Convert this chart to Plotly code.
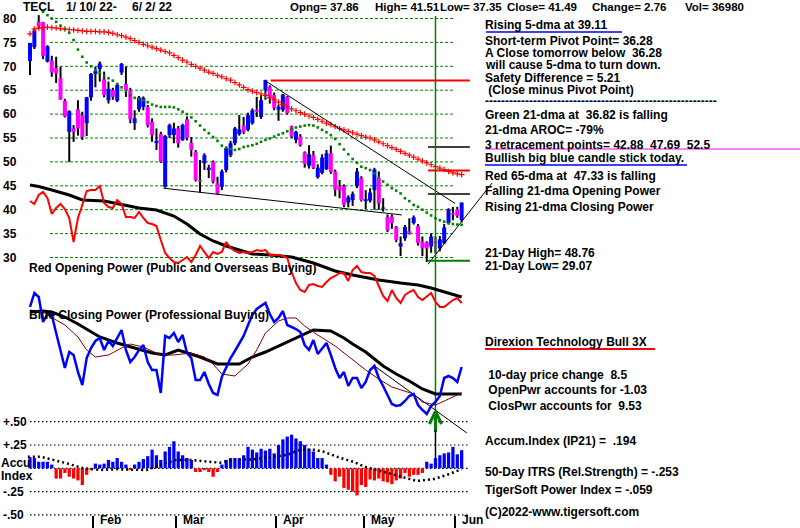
import plotly.graph_objects as go

W, H = 800, 528
FONT = "Liberation Sans, Arial, sans-serif"

# ---------------- data ----------------
days = list(range(100))
month_ticks = [14.5, 33.5, 56.5, 76.5, 97.5]
month_labels = ['Feb', 'Mar', 'Apr', 'May', 'Jun']
price_ticks = [30, 35, 40, 45, 50, 55, 60, 65, 70, 75, 80]
accum_ticks = [0.5, 0.25, -0.25, -0.5]
accum_tick_text = ['+.50', '+.25', '-.25', '-.50']
accum_grid = [0.5, 0.25, 0.0, -0.25, -0.5]

open_ = [71.1,74.0,79.3,79.2,71.0,71.2,69.6,67.5,62.8,56.3,
         57.0,61.0,59.8,58.1,63.5,68.4,69.4,67.3,62.9,65.0,
         62.8,68.7,66.3,65.0,58.1,61.0,61.5,61.5,58.4,53.9,
         55.8,44.8,55.6,55.6,57.0,54.6,58.9,54.0,52.1,46.2,
         49.7,48.3,50.0,45.5,44.8,48.3,51.4,53.9,55.8,57.6,
         56.7,58.1,60.9,59.4,65.0,65.7,64.0,60.9,60.9,63.6,
         57.4,54.6,55.3,52.0,49.2,51.4,46.8,47.7,48.5,51.8,
         48.0,44.8,44.9,41.5,42.0,44.9,46.6,41.8,41.9,44.1,
         46.6,40.2,38.4,38.6,36.4,32.3,34.0,35.5,37.2,36.6,
         33.3,33.2,32.3,33.3,31.9,33.0,37.2,39.3,40.1,37.86]
high = [74.9,78.0,80.7,79.3,74.4,72.2,72.0,69.9,63.2,60.8,
        57.7,62.9,60.5,63.6,68.6,69.9,71.0,68.9,66.8,65.5,
        66.5,70.7,69.9,65.5,60.8,63.8,63.7,61.9,59.1,57.0,
        56.3,55.6,58.0,58.2,57.5,58.0,59.5,55.2,52.5,50.4,
        51.8,49.4,50.3,46.9,48.4,53.0,54.4,57.3,59.8,59.4,
        60.3,61.2,63.6,64.0,67.2,66.0,64.5,62.0,64.2,63.8,
        57.6,56.5,55.8,52.2,53.5,52.3,49.5,51.6,52.5,53.4,
        48.4,46.2,45.3,43.0,43.8,48.7,47.0,44.1,44.5,48.76,
        48.0,42.4,39.0,39.0,36.6,34.4,36.8,38.2,38.8,37.0,
        34.4,33.4,35.0,34.4,34.5,37.0,40.3,40.6,40.6,41.51]
low = [68.2,73.6,77.8,71.5,70.8,67.8,66.5,63.0,59.3,50.0,
       54.2,55.5,54.6,55.4,62.8,65.6,66.8,63.5,62.2,63.0,
       62.5,68.2,63.6,58.1,56.7,60.5,60.8,57.2,54.2,52.5,
       49.8,44.6,55.0,53.9,53.0,54.4,54.5,51.1,45.9,43.6,
       48.3,46.6,45.5,43.2,44.1,47.8,51.0,53.5,55.5,55.8,
       56.4,57.8,59.4,59.0,63.0,62.2,60.8,58.6,60.5,59.9,
       55.0,53.9,53.2,48.8,48.6,48.5,46.5,47.4,48.3,47.5,
       42.8,42.4,40.5,40.5,40.8,44.5,41.7,40.1,41.5,40.0,
       40.0,39.6,35.3,36.0,33.2,30.3,33.5,34.8,36.9,32.5,
       30.3,29.07,31.0,30.9,31.3,32.8,36.9,37.8,38.3,37.35]
close = [74.9,77.5,78.4,72.2,74.2,68.7,68.5,63.1,59.5,60.6,
         56.3,57.0,55.2,63.5,68.4,69.0,70.6,64.0,65.3,63.6,
         66.1,70.5,65.0,58.9,59.1,63.5,63.4,57.7,55.6,54.4,
         50.0,55.4,57.7,57.0,53.9,57.7,55.0,52.5,46.2,45.9,
         51.4,48.8,45.9,43.4,48.0,52.9,53.9,57.0,56.8,56.3,
         59.8,60.8,60.5,62.9,67.1,63.6,61.3,61.5,64.1,60.2,
         55.3,56.3,53.5,49.6,51.6,48.8,48.8,50.9,51.8,47.9,
         44.2,44.0,41.0,42.6,43.3,48.0,42.0,42.2,43.6,48.4,
         41.3,40.4,35.7,37.2,33.7,33.0,36.4,35.0,38.4,33.0,
         31.9,31.9,34.4,33.0,33.8,36.28,40.0,39.0,38.7,41.49]

ma65 = [76.8,77.8,78.0,78.1,78.2,78.1,78.0,77.9,77.8,77.7,
        77.6,77.5,77.4,77.3,77.3,77.3,77.2,77.2,77.1,76.9,
        76.6,76.4,76.1,75.8,75.4,75.0,74.6,74.3,74.0,73.7,
        73.4,73.1,72.8,72.3,71.8,71.3,70.9,70.4,70.0,69.6,
        69.2,68.8,68.5,68.1,67.8,67.4,67.1,66.6,66.1,65.6,
        65.1,64.8,64.5,64.2,63.9,63.4,63.0,62.5,62.0,61.5,
        61.1,60.7,60.3,60.0,59.6,59.3,58.9,58.5,58.1,57.8,
        57.4,57.0,56.7,56.4,56.1,55.8,55.5,55.2,55.0,54.6,
        54.2,53.8,53.4,53.0,52.6,52.2,51.8,51.4,51.0,50.6,
        50.2,49.8,49.4,49.0,48.7,48.4,48.0,47.7,47.5,47.33]

ma21_days = list(range(3, 100))
ma21 = [81.4,80.7,80.0,79.3,78.5,77.8,77.0,75.5,73.5,72.0,
        70.8,70.0,69.2,68.6,68.0,67.5,67.0,66.3,65.6,64.8,
        63.9,63.4,63.1,62.9,62.5,62.0,61.7,61.5,61.5,61.5,
        61.4,61.0,60.5,60.0,59.3,58.5,57.6,56.7,56.0,55.2,
        54.4,53.4,53.0,52.7,52.5,52.7,53.1,53.3,53.5,53.8,
        54.2,54.6,54.9,55.3,55.7,56.0,56.4,56.8,57.2,57.4,
        57.6,57.7,57.6,57.2,56.7,56.2,55.6,54.8,53.7,52.6,
        51.6,50.6,49.8,49.0,48.7,48.3,47.6,46.8,45.9,45.2,
        44.5,44.0,43.4,42.4,41.8,41.0,40.6,40.0,39.4,38.8,
        38.2,37.8,37.5,37.2,37.0,36.9,36.82]

open_power = [109,106,115,118,112,96,102,106,101,92,
              68,92,105,119,120,120,124,107,103,102,
              110,106,93,93,92,98,92,87,86,84,
              70,57,52,48,47,50,53,48,55,64,
              58,52,58,56,58,68,62,59,57,58,
              57,58,60,59,60,55,55,55,54,52,
              38,27,20,18,25,26,24,23,28,32,
              34,37,37,29,40,44,38,37,37,34,
              24,14,9,20,12,7,15,18,20,13,
              10,14,17,8,3,3,7,10,12,7]
op_ma_days = [0,2,5,9,12,17,21,25,29,33,36,39,42,45,48,51,55,60,65,70,74,80,85,89,92,95,99]
op_ma = [125,123.5,120,115,110,109,105.5,102,100,94,86,76,69,64,60,56,55,53,47,39,35,30,27,25,22,18,13]

close_power = [113,127,123,98,106,105,87,68,52,68,
               65,48,35,62,72,79,82,70,79,74,
               82,90,70,58,63,70,75,58,50,50,
               27,84,82,87,78,85,67,62,40,40,
               48,36,27,25,43,52,62,69,77,84,
               95,105,111,114,117,106,98,102,109,95,
               93,91,88,75,70,80,66,72,77,65,
               52,42,48,34,42,42,32,38,50,54,
               42,34,25,16,14,15,19,24,26,15,
               10,6,14,18,24,42,44,42,38,53]
cp_ma_days = [0,3,5,8,11,16,20,24,28,31,34,39,43,48,51,54,57,60,63,65,69,72,74,77,81,84,87,90,93,99]
cp_ma = [108,109,108,103,96,83,77,72,67,65,70,63,56,56,63,68,74,80,86,90,89,82,76,68,54,46,39,31,26,26]
cp_ma2_days = [0,3,6,8,11,13,15,18,21,23,26,30,33,37,40,42,44,47,50,52,54,57,59,61,63,66,70,74,77,80,83,88,90,93,96,99]
cp_ma2 = [110,108,100,95,83,70,63,65,72,76,73,65,65,67,63,56,46,44,56,70,87,99,102,102,94,85,74,60,50,41,33,26,18,15,21,27]

accum = [0.12,0.11,0.07,0.07,0.07,0.04,-0.11,-0.11,-0.05,-0.09,
         -0.11,-0.13,-0.18,-0.07,-0.02,0.05,0.04,0.05,0.09,0.07,
         0.11,0.07,0.04,-0.02,0.04,0.07,0.10,0.13,0.20,0.14,
         0.09,0.18,0.23,0.29,0.18,0.14,0.11,0.09,-0.04,-0.04,
         -0.02,-0.04,-0.09,-0.04,0.04,0.09,0.11,0.11,0.11,0.14,
         0.23,0.20,0.17,0.21,0.19,0.21,0.16,0.25,0.31,0.34,
         0.36,0.32,0.29,0.25,0.21,0.18,0.11,0.11,0.04,-0.07,
         -0.14,-0.09,-0.21,-0.23,-0.25,-0.29,-0.18,-0.20,-0.12,-0.13,
         -0.11,-0.14,-0.15,-0.17,-0.13,-0.11,-0.05,-0.09,-0.07,-0.07,
         -0.05,0.07,0.05,0.11,0.14,0.16,0.17,0.23,0.15,0.194]
itrs_days = [-0.5,2.3,5.3,8.4,12.2,16,19.9,23.6,26.8,29.8,33.6,36.7,40.5,43.6,46.6,51.1,55.7,58.9,61.9,64.9,67.2,70.3,74.1,77.2,81,84.9,88.7,92.4,95.6,99]
itrs = [0.125,0.125,0.09,0.054,0.0,-0.018,-0.011,-0.018,-0.018,0.036,0.09,0.09,0.07,0.06,0.09,0.096,0.125,0.143,0.196,0.2,0.18,0.125,0.07,0.01,-0.036,-0.09,-0.136,-0.118,-0.071,-0.01]

# trend lines (day, price) / (day, power)
trend_down = ([53.9, 97.5], [67.0, 41.3])
trend_support = ([30.6, 85.3], [44.5, 38.9])
trend_up = ([91.3, 106.0], [28.6, 45.6])
cp_trend = ([78.7, 100.2], [55, -13])
signal_day = 93
level_lines = [(55.2, 67.05, 'red'), (91.3, 53.1, 'black'), (91.3, 48.2, 'red'),
               (91.3, 43.3, 'black'), (91.3, 29.3, '#008000')]
level_end = 100.9

# header pieces (text, left x in px)
header_items = [('TECL', 22, 12), ('1/ 10/ 22-', 65, 12), ('6/ 2/ 22', 131, 12),
                ('Opng= 37.86', 289, 11.5), ('High= 41.51', 374, 11.5), ('Low= 37.35', 439, 11.5),
                ('Close= 41.49', 506, 11.5), ('Change= 2.76', 591, 11.5), ('Vol= 36980', 684, 11.5)]

# ---------------- pixel geometry -> axis ranges ----------------
PX0, DX = 30.0, 4.36
x_range = [-PX0 / DX, (W - PX0) / DX]
P_Y80, P_SCALE = 18.5, 4.78
price_range = [80 - (H - P_Y80) / P_SCALE, 80 + P_Y80 / P_SCALE]
op_range = [310 - H, 310]
cp_range = [420 - H, 420]
A_Y0, A_SCALE = 468.3, 93.3
acc_range = [(A_Y0 - H) / A_SCALE, A_Y0 / A_SCALE]

BLUE, MAG, RED, GREEN = '#0000FF', '#FF00FF', '#FF0000', '#008000'

fig = go.Figure()

# wicks
wx, wy = [], []
for i in days:
    wx += [i, i, None]
    wy += [low[i], high[i], None]
fig.add_trace(go.Scatter(x=wx, y=wy, mode='lines', line=dict(color='black', width=2),
                         hoverinfo='skip', yaxis='y'))
# bodies
for up, col in ((True, BLUE), (False, MAG)):
    bx, by = [], []
    for i in days:
        if (close[i] >= open_[i]) == up:
            lo_, hi_ = min(open_[i], close[i]), max(open_[i], close[i])
            if hi_ - lo_ < 0.25:
                hi_ = lo_ + 0.25
            bx += [i, i, None]
            by += [lo_, hi_, None]
    fig.add_trace(go.Scatter(x=bx, y=by, mode='lines', line=dict(color=col, width=4),
                             hoverinfo='skip', yaxis='y'))

# moving averages on price
fig.add_trace(go.Scatter(x=days, y=ma65, mode='markers',
                         marker=dict(symbol='cross-thin', size=4, color=RED,
                                     line=dict(width=1.2, color=RED)),
                         yaxis='y'))
fig.add_trace(go.Scatter(x=ma21_days, y=ma21, mode='markers',
                         marker=dict(symbol='square', size=2.6, color=GREEN, line=dict(width=0)),
                         yaxis='y'))
# trend lines
for tl in (trend_down, trend_support, trend_up):
    fig.add_trace(go.Scatter(x=tl[0], y=tl[1], mode='lines', line=dict(color='black', width=1),
                             yaxis='y'))
# level lines
for x0, lvl, col in level_lines:
    fig.add_trace(go.Scatter(x=[x0, level_end], y=[lvl, lvl], mode='lines',
                             line=dict(color=col, width=2 if col != 'black' else 1.5), yaxis='y'))
# signal vertical line
fig.add_trace(go.Scatter(x=[signal_day, signal_day], y=[80.5, -1.9], mode='lines',
                         line=dict(color=GREEN, width=1.5), yaxis='y'))

# opening power
fig.add_trace(go.Scatter(x=op_ma_days, y=op_ma, mode='lines', line=dict(color='black', width=3),
                         yaxis='y2'))
fig.add_trace(go.Scatter(x=days, y=open_power, mode='lines', line=dict(color=RED, width=2),
                         yaxis='y2'))

# closing power
fig.add_trace(go.Scatter(x=cp_ma_days, y=cp_ma, mode='lines', line=dict(color='black', width=3),
                         yaxis='y3'))
fig.add_trace(go.Scatter(x=cp_ma2_days, y=cp_ma2, mode='lines', line=dict(color='#800000', width=1),
                         yaxis='y3'))
fig.add_trace(go.Scatter(x=cp_trend[0], y=cp_trend[1], mode='lines', line=dict(color='black', width=1),
                         yaxis='y3'))
fig.add_trace(go.Scatter(x=days, y=close_power, mode='lines', line=dict(color=BLUE, width=2.5),
                         yaxis='y3'))
# green arrow
fig.add_trace(go.Scatter(x=[signal_day - 1.4, signal_day, signal_day + 1.4, None, signal_day, signal_day],
                         y=[-4, 8.5, -4, None, 8.5, -12], mode='lines',
                         line=dict(color=GREEN, width=3), yaxis='y3'))

# accumulation index
fig.add_trace(go.Bar(x=days, y=accum, width=0.75,
                     marker=dict(color=[BLUE if v >= 0 else RED for v in accum], line=dict(width=0)),
                     yaxis='y4'))
fig.add_trace(go.Scatter(x=itrs_days, y=itrs, mode='lines',
                         line=dict(color='black', width=2.5, dash='2px,3px'), yaxis='y4'))
fig.add_trace(go.Scatter(x=[signal_day, signal_day], y=[0.41, 0.11], mode='lines',
                         line=dict(color='black', width=1.5), yaxis='y4'))

# ---------------- grids (shapes) ----------------
shapes = []
for p in price_ticks:
    shapes.append(dict(type='line', xref='x', yref='y', x0=4.6, x1=97.0, y0=p, y1=p,
                       line=dict(color=GREEN, width=1, dash='3px,2px'), layer='below'))
for a in accum_grid:
    shapes.append(dict(type='line', xref='x', yref='y4', x0=0, x1=100.9, y0=a, y1=a,
                       line=dict(color='black', width=1.2, dash='1.5px,2.5px'), layer='below'))


def pline(x0, y0, x1, y1, col, w):
    shapes.append(dict(type='line', xref='paper', yref='paper', x0=x0 / W, x1=x1 / W,
                       y0=1 - y0 / H, y1=1 - y1 / H, line=dict(color=col, width=w)))


pline(486, 32, 622, 32, BLUE, 1.5)
pline(485, 149, 800, 149, MAG, 1)
pline(485, 165, 687, 165, BLUE, 1.5)
pline(485, 349, 655, 349, RED, 2)

# ---------------- text ----------------
anns = []


def ann(text, x, y, size=12, color='black'):
    text = text.replace('  ', '\u00a0\u00a0')
    if text.startswith(' '):
        text = '\u00a0' + text[1:]
    anns.append(dict(text='<b>' + text + '</b>', x=x / W, y=1 - y / H, xref='paper', yref='paper',
                     xanchor='left', yanchor='middle', showarrow=False, borderpad=0,
                     font=dict(family=FONT, size=size, color=color)))


for t, x, s in header_items:
    ann(t, x, 7, size=s)

panel = [
    ('Rising 5-dma at 39.11', 25),
    ('Short-term Pivot Point= 36.28', 41),
    ('A Close tomorrow below  36.28', 53),
    ('will cause 5-dma to turn down.', 65),
    ('Safety Difference = 5.21', 78),
    (' (Close minus Pivot Point)', 90),
    ('-' * 58, 101),
    ('Green 21-dma at  36.82 is falling', 115),
    ('21-dma AROC= -79%', 130),
    ('3 retracement points= 42.88  47.69  52.5', 145),
    ('Bullish big blue candle stick today.', 158),
    ('Red 65-dma at  47.33 is falling', 176),
    ('Falling 21-dma Opening Power', 191),
    ('Rising 21-dma Closing Power', 207),
    ('21-Day High= 48.76', 253),
    ('21-Day Low= 29.07', 266),
    ('Direxion Technology Bull 3X', 342),
    (' 10-day price change  8.5', 374.5),
    (' OpenPwr accounts for -1.03', 390),
    (' ClosPwr accounts for  9.53', 406),
    ('Accum.Index (IP21) =  .194', 440.5),
    ('50-Day ITRS (Rel.Strength) = -.253', 471.5),
    ('TigerSoft Power Index = -.059', 490),
    ('(C)2022-www.tigersoft.com', 511.5),
]
for t, y in panel:
    ann(t, 484, y)

ann('Red Opening Power (Public and Overseas Buying)', 28, 268)
ann('Blue Closing Power (Professional Buying)', 28, 315)
ann('Accu', 0, 463)
ann('Index', 0, 476)

for t, lbl in zip(month_ticks, month_labels):
    anns.append(dict(text='<b>' + lbl + '</b>', x=t, y=1 - 520 / H, xref='x', yref='paper',
                     xanchor='left', yanchor='middle', xshift=6, showarrow=False, borderpad=0,
                     font=dict(family=FONT, size=12, color='black')))

tickfont = dict(family=FONT, size=12, color='black', weight='bold')
fig.update_layout(
    width=W, height=H, margin=dict(l=0, r=0, t=0, b=0, pad=0, autoexpand=False),
    paper_bgcolor='white', plot_bgcolor='white', showlegend=False, barmode='overlay',
    xaxis=dict(range=x_range, showgrid=False, zeroline=False, showline=False,
               tickvals=month_ticks, ticktext=['' for _ in month_ticks], ticks='inside',
               ticklen=12, tickwidth=2, tickcolor='black'),
    yaxis=dict(range=price_range, showgrid=False, zeroline=False, showline=False,
               tickvals=price_ticks, ticktext=[str(p) for p in price_ticks],
               ticklabelposition='inside', ticks='', tickfont=tickfont),
    yaxis2=dict(range=op_range, overlaying='y', visible=False),
    yaxis3=dict(range=cp_range, overlaying='y', visible=False),
    yaxis4=dict(range=acc_range, overlaying='y', showgrid=False, zeroline=False, showline=False,
                tickvals=accum_ticks, ticktext=accum_tick_text, ticklabelposition='inside',
                ticks='', tickfont=tickfont),
    shapes=shapes, annotations=anns,
)

fig.write_html('out.html', config={'displayModeBar': False},
               post_script="document.body.style.margin='0';document.body.style.padding='0';")
